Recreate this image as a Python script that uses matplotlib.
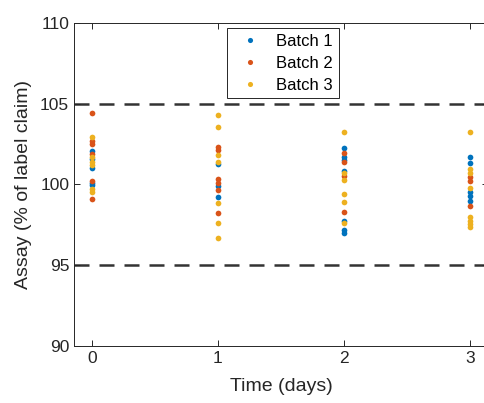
import matplotlib.pyplot as plt

plt.rcParams['font.family'] = ['Liberation Sans', 'DejaVu Sans']

batch_names = ['Batch 1', 'Batch 2', 'Batch 3']
batch_colors = ['#0072BD', '#D95319', '#EDB120']

# assay values (% of label claim) per batch at each time point (days)
batch1 = {
    0: [102.1, 101.6, 101.0, 100.1, 99.95],
    1: [101.27, 99.9, 99.24],
    2: [102.24, 101.72, 101.52, 100.86, 97.74, 97.18, 96.98],
    3: [101.72, 101.31, 99.56, 99.29, 99.0],
}
batch2 = {
    0: [104.4, 102.7, 102.5, 101.9, 100.2, 99.1],
    1: [102.34, 102.14, 100.32, 100.11, 99.66, 98.25],
    2: [101.97, 101.37, 100.53, 98.3],
    3: [100.48, 100.24, 98.67],
}
batch3 = {
    0: [102.95, 101.7, 101.4, 101.2, 99.75, 99.55],
    1: [104.3, 103.58, 101.83, 101.41, 98.87, 97.6, 96.67],
    2: [103.27, 100.69, 100.28, 99.41, 98.9, 97.6],
    3: [103.27, 100.94, 100.73, 99.76, 97.97, 97.76, 97.55, 97.39],
}
limits = [95, 105]

fig = plt.figure(figsize=(4.85, 4.03), dpi=100)
ax = fig.add_axes([0.1526, 0.1414, 0.8534, 0.8016])

for spec in limits:
    ax.axhline(spec, color='#333333', lw=1.8, ls=(0, (6, 4)), zorder=1)

for data, name, color in zip([batch1, batch2, batch3], batch_names, batch_colors):
    xs, ys = [], []
    for t, vals in data.items():
        xs += [t] * len(vals)
        ys += vals
    ax.plot(xs, ys, 'o', ms=4.1, mec='none', color=color, label=name, zorder=3)

ax.set_xlim(-0.143, 3.143)
ax.set_ylim(90, 110)
ax.set_xticks([0, 1, 2, 3])
ax.set_yticks([90, 95, 100, 105, 110])
ax.tick_params(direction='in', top=True, right=True, labelsize=12.5,
               colors='#262626', length=4, width=0.7)
for s in ax.spines.values():
    s.set_color('#262626')
    s.set_linewidth(0.7)
ax.set_xlabel('Time (days)', fontsize=14, color='#262626', labelpad=9)
ax.set_ylabel('Assay (% of label claim)', fontsize=14, color='#262626', labelpad=6)

leg = ax.legend(loc='upper left', bbox_to_anchor=(0.37, 0.983), borderaxespad=0,
                fancybox=False, framealpha=1, edgecolor='#262626', fontsize=12,
                markerscale=0.9, handletextpad=0.6, borderpad=0.35, labelspacing=0.4)
leg.get_frame().set_linewidth(0.7)

fig.savefig('out.png', dpi=100)
